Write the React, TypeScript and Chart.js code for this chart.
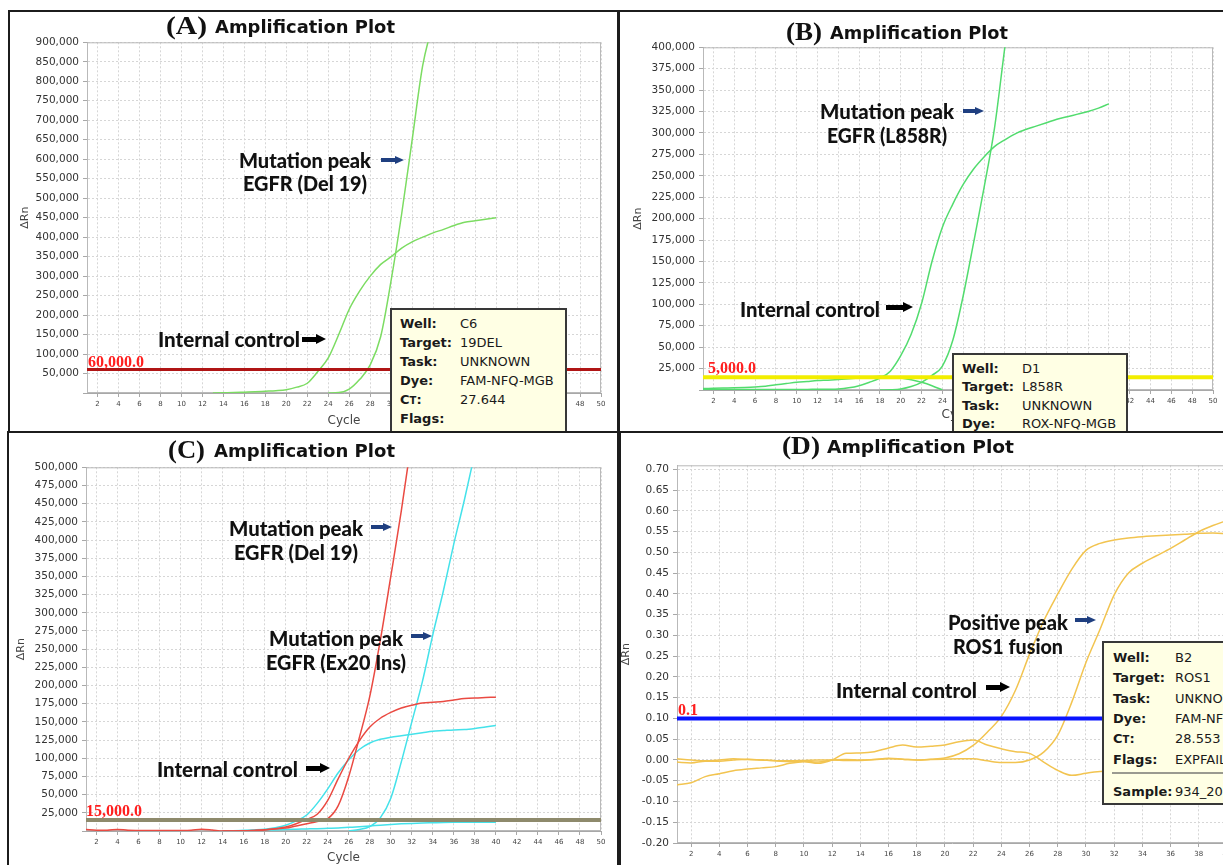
import React, { useEffect, useRef } from "react";
import { Chart, registerables } from "chart.js";
Chart.register(...registerables);

// ---------- shared axis data ----------
const cycles = [1, 2, 3, 4, 5, 6, 7, 8, 9, 10, 11, 12, 13, 14, 15, 16, 17, 18, 19, 20, 21, 22, 23, 24, 25, 26, 27, 28, 29, 30, 31, 32, 33, 34, 35, 36, 37, 38, 39, 40];
const xTicks50 = [2, 4, 6, 8, 10, 12, 14, 16, 18, 20, 22, 24, 26, 28, 30, 32, 34, 36, 38, 40, 42, 44, 46, 48, 50];
const xTicks40 = [2, 4, 6, 8, 10, 12, 14, 16, 18, 20, 22, 24, 26, 28, 30, 32, 34, 36, 38, 40];

// ---------- Panel A ----------
const aYTicks = [0, 50000, 100000, 150000, 200000, 250000, 300000, 350000, 400000, 450000, 500000, 550000, 600000, 650000, 700000, 750000, 800000, 850000, 900000];
const aInternal = [null, null, null, null, null, null, null, null, null, null, null, null, 0, 500, 1000, 2000, 3000, 4500, 6000, 8500, 15000, 25000, 55000, 90000, 150000, 215000, 262000, 300000, 330000, 350000, 372000, 388000, 400000, 411000, 420000, 430000, 438000, 442000, 446000, 450000];
const aMutation = [null, null, null, null, null, null, null, null, null, null, null, null, null, null, null, null, null, null, null, null, null, null, null, 0, 1000, 10000, 35000, 72000, 145000, 290000, 460000, 650000, 840000, 950000, 1050000, null, null, null, null, null];
const aThreshold = 60000;

// ---------- Panel B ----------
const bYTicks = [0, 25000, 50000, 75000, 100000, 125000, 150000, 175000, 200000, 225000, 250000, 275000, 300000, 325000, 350000, 375000, 400000];
const bInternal = [800, 700, 600, 600, 500, 500, 500, 500, 500, 600, 700, 800, 900, 1200, 2500, 5000, 9000, 14000, 22000, 40000, 65000, 101000, 150000, 190000, 217000, 240000, 258000, 272000, 284000, 292000, 299000, 304000, 308000, 312000, 316000, 319000, 322000, 325000, 329000, 334000];
const bMutation = [null, null, null, null, null, null, null, null, null, null, null, null, null, null, null, null, null, 0, 300, 1200, 4000, 9000, 17000, 28000, 58000, 110000, 172000, 236000, 305000, 400000, 490000, null, null, null, null, null, null, null, null, null];
const bDrift = [1700, 2000, 2300, 2600, 3000, 3600, 4500, 6000, 7500, 9000, 10000, 11000, 11500, 12200, 13000, 14000, 15000, 16000, 15500, 14000, 12000, 9000, 5000, 0, null, null, null, null, null, null, null, null, null, null, null, null, null, null, null, null];
const bThreshold = 15000;

// ---------- Panel C ----------
const cYTicks = [0, 25000, 50000, 75000, 100000, 125000, 150000, 175000, 200000, 225000, 250000, 275000, 300000, 325000, 350000, 375000, 400000, 425000, 450000, 475000, 500000];
const cRedInternal = [2000, 1200, 1000, 2200, 1000, 800, 700, 700, 700, 800, 1200, 2500, 1500, 0, 0, 200, 800, 1500, 3000, 5500, 10000, 16000, 23000, 42000, 72000, 100000, 124000, 143000, 155000, 163000, 169000, 173000, 176000, 177000, 178000, 180000, 182000, 183000, 183500, 184000];
const cRedMutation = [null, null, null, null, null, null, null, null, null, null, null, null, null, 0, 0, 200, 800, 1800, 2800, 4000, 7000, 10000, 13000, 17000, 35000, 75000, 128000, 185000, 262000, 350000, 440000, 540000, null, null, null, null, null, null, null, null];
const cCyanInternal = [null, null, null, null, null, null, null, null, null, null, null, null, null, 0, 300, 800, 1500, 2500, 4500, 8000, 14000, 22000, 38000, 58000, 80000, 98000, 112000, 121000, 126000, 129000, 131000, 133000, 135000, 137000, 138000, 139000, 139500, 141000, 143000, 145000];
const cCyanMutation = [null, null, null, null, null, null, null, null, null, null, null, null, null, null, null, null, null, null, null, null, null, null, null, null, null, 0, 2000, 6000, 18000, 45000, 95000, 150000, 205000, 270000, 330000, 395000, 455000, 520000, null, null];
const cCyanLow = [null, null, null, null, null, null, null, null, null, null, null, null, null, 0, 300, 600, 900, 1200, 1500, 2000, 2400, 2800, 3200, 3700, 4200, 5000, 5800, 6800, 8000, 9000, 9800, 10400, 10900, 11300, 11700, 11900, 12000, 12100, 12200, 12200];
const cThreshold = 15000;

// ---------- Panel D ----------
const dYTicks = [-0.2, -0.15, -0.1, -0.05, 0, 0.05, 0.1, 0.15, 0.2, 0.25, 0.3, 0.35, 0.4, 0.45, 0.5, 0.55, 0.6, 0.65, 0.7];
const dInternal = [-0.005, -0.007, -0.003, -0.003, 0.0, 0.002, 0.0, -0.002, -0.004, -0.003, -0.005, 0.0, 0.001, 0.0, 0.001, 0.003, 0.002, 0.0, 0.002, 0.005, 0.015, 0.035, 0.067, 0.105, 0.168, 0.255, 0.335, 0.4, 0.46, 0.505, 0.522, 0.53, 0.535, 0.538, 0.54, 0.542, 0.544, 0.546, 0.547, 0.545];
const dRos1 = [0.003, 0.0, -0.002, 0.0, 0.003, 0.001, 0.0, -0.002, -0.002, -0.001, 0.0, 0.0, -0.001, -0.001, 0.001, 0.004, 0.002, 0.0, 0.001, 0.002, 0.003, 0.003, -0.002, -0.006, -0.006, 0.0, 0.019, 0.06, 0.14, 0.235, 0.315, 0.398, 0.45, 0.474, 0.492, 0.51, 0.53, 0.55, 0.565, 0.577];
const dBaseline = [-0.06, -0.055, -0.04, -0.033, -0.026, -0.022, -0.019, -0.016, -0.008, -0.004, -0.008, 0.0, 0.016, 0.017, 0.02, 0.029, 0.036, 0.031, 0.033, 0.036, 0.044, 0.048, 0.036, 0.027, 0.02, 0.016, -0.005, -0.025, -0.037, -0.032, -0.028, -0.026, -0.025, -0.024, -0.023, -0.022, -0.022, -0.021, -0.02, -0.02];
const dThreshold = 0.1;

// ---------- chart helpers ----------
const toXY = (arr) => cycles.map((c, i) => ({ x: c, y: arr[i] }));

function curve(arr, color) {
  return {
    data: toXY(arr),
    borderColor: color,
    borderWidth: 1.5,
    pointRadius: 0,
    cubicInterpolationMode: "monotone",
    fill: false,
    order: 2,
  };
}

function buildConfig(p) {
  const thrData = [
    { x: p.xMin, y: p.threshold.value },
    { x: p.xMax, y: p.threshold.value },
  ];
  const frame = {
    id: "frame",
    beforeDatasetsDraw(chart) {
      const { ctx, chartArea: a } = chart;
      ctx.save();
      ctx.strokeStyle = "#b9b9b9";
      ctx.lineWidth = 1;
      ctx.strokeRect(a.left + 0.5, a.top + 0.5, a.right - a.left - 1, a.bottom - a.top - 1);
      ctx.restore();
    },
  };
  const thrLabel = {
    id: "thrLabel",
    afterDatasetsDraw(chart) {
      const { ctx, chartArea: a } = chart;
      const y = chart.scales.y.getPixelForValue(p.threshold.value);
      ctx.save();
      ctx.font = "bold 16px 'Liberation Serif'";
      ctx.fillStyle = "#ff1e1e";
      ctx.textBaseline = "middle";
      ctx.textAlign = "left";
      ctx.fillText(p.threshold.label, a.left + p.threshold.dx, y - p.threshold.dy);
      ctx.restore();
    },
  };
  return {
    type: "line",
    data: {
      datasets: [
        {
          data: thrData,
          borderColor: p.threshold.color,
          borderWidth: p.threshold.width,
          pointRadius: 0,
          order: 0,
        },
        ...p.datasets,
      ],
    },
    plugins: [frame, thrLabel],
    options: {
      responsive: false,
      maintainAspectRatio: false,
      animation: false,
      devicePixelRatio: 1,
      events: [],
      layout: { padding: { top: p.padTop, right: p.padRight, left: 0, bottom: 0 } },
      plugins: { legend: { display: false }, tooltip: { enabled: false }, title: { display: false } },
      scales: {
        x: {
          type: "linear",
          min: p.xMin,
          max: p.xMax,
          afterBuildTicks: (s) => {
            s.ticks = p.xTicks.map((v) => ({ value: v }));
          },
          afterFit: (s) => {
            s.height = p.xh;
          },
          grid: { color: "#d6d6d6", lineWidth: 1, drawTicks: true, tickLength: 4, tickColor: "#a8a8a8", tickBorderDash: [] },
          border: { display: true, color: "#a8a8a8", dash: [2, 2] },
          ticks: {
            font: { family: "DejaVu Sans", size: 7 },
            color: "#444",
            padding: 3,
            maxRotation: 0,
            autoSkip: false,
            callback: (v) => String(v),
          },
          title: {
            display: p.showCycle,
            text: "Cycle",
            font: { family: "DejaVu Sans", size: 12 },
            color: "#444",
            padding: { top: 0, bottom: p.xTitlePad },
          },
        },
        y: {
          type: "linear",
          min: p.yMin,
          max: p.yMax,
          afterBuildTicks: (s) => {
            s.ticks = p.yTicks.map((v) => ({ value: v }));
          },
          afterFit: (s) => {
            s.width = p.yw;
          },
          grid: { color: "#d6d6d6", lineWidth: 1, drawTicks: true, tickLength: 4, tickColor: "#a8a8a8", tickBorderDash: [] },
          border: { display: true, color: "#a8a8a8", dash: [2, 2] },
          ticks: {
            font: { family: "DejaVu Sans", size: 10.5 },
            color: "#333",
            padding: 4,
            autoSkip: false,
            callback: p.yFmt,
          },
          title: {
            display: true,
            text: "ΔRn",
            font: { family: "DejaVu Sans", size: 11 },
            color: "#444",
            padding: { top: p.yTitlePad, bottom: 0 },
          },
        },
      },
    },
  };
}

function PlotCanvas({ p }) {
  const ref = useRef(null);
  const W = p.yw + (p.plot.r - p.plot.l) + p.padRight;
  const H = p.padTop + (p.plot.b - p.plot.t) + p.xh;
  useEffect(() => {
    const chart = new Chart(ref.current, buildConfig(p));
    return () => chart.destroy();
  }, []);
  return (
    <canvas
      ref={ref}
      width={W}
      height={H}
      style={{ position: "absolute", left: p.plot.l - p.yw, top: p.plot.t - p.padTop, width: W, height: H }}
    />
  );
}

const fmtBig = (v) => (v === 0 ? "" : Number(v).toLocaleString("en-US"));
const fmtSmall = (v) => Number(v).toFixed(2);

const panelA = {
  plot: { l: 87, t: 42, r: 601, b: 393 },
  yw: 79, xh: 36, padTop: 10, padRight: 12, yTitlePad: 11, xTitlePad: 1, showCycle: true,
  xMin: 1, xMax: 50, xTicks: xTicks50, yMin: 0, yMax: 900000, yTicks: aYTicks, yFmt: fmtBig,
  threshold: { value: aThreshold, color: "#b01515", width: 3, label: "60,000.0", dx: 1, dy: 7 },
  datasets: [curve(aInternal, "#7cdc62"), curve(aMutation, "#7cdc62")],
};
const panelB = {
  plot: { l: 703, t: 47, r: 1213, b: 390 },
  yw: 79, xh: 36, padTop: 10, padRight: 12, yTitlePad: 8, xTitlePad: 4, showCycle: true,
  xMin: 1, xMax: 50, xTicks: xTicks50, yMin: 0, yMax: 400000, yTicks: bYTicks, yFmt: fmtBig,
  threshold: { value: bThreshold, color: "#f2ee00", width: 4, label: "5,000.0", dx: 5, dy: 8 },
  datasets: [curve(bInternal, "#52dc6e"), curve(bMutation, "#52dc6e"), curve(bDrift, "#52dc6e")],
};
const panelC = {
  plot: { l: 86, t: 467, r: 601, b: 831 },
  yw: 79, xh: 36, padTop: 10, padRight: 12, yTitlePad: 8, xTitlePad: 2, showCycle: true,
  xMin: 1, xMax: 50, xTicks: xTicks50, yMin: 0, yMax: 500000, yTicks: cYTicks, yFmt: fmtBig,
  threshold: { value: cThreshold, color: "#8e8a6c", width: 4, label: "15,000.0", dx: 0, dy: 8 },
  datasets: [
    curve(cRedInternal, "#ea4a42"),
    curve(cRedMutation, "#ea4a42"),
    curve(cCyanInternal, "#44e2ea"),
    curve(cCyanMutation, "#44e2ea"),
    curve(cCyanLow, "#44e2ea"),
  ],
};
const panelD = {
  plot: { l: 677, t: 465, r: 1227, b: 843 },
  yw: 60, xh: 36, padTop: 10, padRight: 12, yTitlePad: 3, xTitlePad: 2, showCycle: false,
  xMin: 1, xMax: 40, xTicks: xTicks40, yMin: -0.2, yMax: 0.71, yTicks: dYTicks, yFmt: fmtSmall,
  threshold: { value: dThreshold, color: "#0a14ff", width: 4, label: "0.1", dx: 1, dy: 8 },
  datasets: [curve(dInternal, "#f2c450"), curve(dRos1, "#f2c450"), curve(dBaseline, "#f2c450")],
};

// ---------- overlay helpers ----------
let measureCtx = null;
function measure(text, font) {
  if (!measureCtx) measureCtx = document.createElement("canvas").getContext("2d");
  measureCtx.font = font;
  return measureCtx.measureText(text).width || 1;
}

function FitText({ x, y, w, text, font, color = "#111" }) {
  const s = w ? Math.max(0.7, Math.min(1.3, w / measure(text, font))) : 1;
  return (
    <div
      style={{
        position: "absolute",
        left: x,
        top: y,
        font,
        color,
        lineHeight: 1,
        whiteSpace: "nowrap",
        transform: `translateY(-50%) scaleX(${s})`,
        transformOrigin: "left center",
      }}
    >
      {text}
    </div>
  );
}

function Arrow({ x1, x2, y, color, shaft = 4, head = 10, hl = 9 }) {
  return (
    <div style={{ position: "absolute", left: x1, top: y - head / 2, width: x2 - x1, height: head }}>
      <div style={{ position: "absolute", left: 0, top: (head - shaft) / 2, width: x2 - x1 - hl + 1, height: shaft, background: color }} />
      <div
        style={{
          position: "absolute",
          right: 0,
          top: 0,
          width: 0,
          height: 0,
          borderTop: `${head / 2}px solid transparent`,
          borderBottom: `${head / 2}px solid transparent`,
          borderLeft: `${hl}px solid ${color}`,
        }}
      />
    </div>
  );
}

const ANN = "900 20px Lato";
const TITLE_FONT = "bold 17px 'DejaVu Sans'";
const LETTER_FONT = "bold 26px 'Liberation Serif'";
const BLUE = "#1f3f80";

function Title({ letter, lx, lw, tx, tw, y }) {
  return (
    <>
      <FitText x={lx} y={y} w={lw} text={letter} font={LETTER_FONT} color="#111" />
      <FitText x={tx} y={y + 1} w={tw} text="Amplification Plot" font={TITLE_FONT} color="#111" />
    </>
  );
}

const TIP_LBL = "bold 13px 'DejaVu Sans'";
const TIP_VAL = "13px 'DejaVu Sans'";

function InfoBox({ box, labelX, valueX, y0, step, rows, sep }) {
  return (
    <>
      <div
        style={{
          position: "absolute",
          left: box.l,
          top: box.t,
          width: box.w,
          height: box.h,
          background: "#ffffe4",
          border: "2px solid #383838",
          boxSizing: "border-box",
        }}
      />
      {rows.map((r, i) => {
        const y = r.y !== undefined ? r.y : y0 + i * step;
        return (
          <React.Fragment key={i}>
            <div style={{ position: "absolute", left: labelX, top: y, transform: "translateY(-50%)", font: TIP_LBL, color: "#1a1a1a", lineHeight: 1, whiteSpace: "nowrap" }}>
              {r.ct ? (
                <span>
                  C<span style={{ fontSize: "10px" }}>T</span>:
                </span>
              ) : (
                r.k
              )}
            </div>
            <div style={{ position: "absolute", left: valueX, top: y, transform: "translateY(-50%)", font: TIP_VAL, color: "#1a1a1a", lineHeight: 1, whiteSpace: "nowrap" }}>
              {r.v}
            </div>
          </React.Fragment>
        );
      })}
      {sep ? <div style={{ position: "absolute", left: sep.x1, top: sep.y, width: sep.x2 - sep.x1, height: 2, background: "#9a9a90" }} /> : null}
    </>
  );
}

function Frame({ l, t, w, h }) {
  return <div style={{ position: "absolute", left: l, top: t, width: w, height: h, border: "2px solid #1c1c1c", boxSizing: "border-box" }} />;
}

export default function App() {
  return (
    <div style={{ position: "fixed", left: 0, top: 0, width: 1223, height: 865, overflow: "hidden", background: "#ffffff" }}>
      <PlotCanvas p={panelA} />
      <PlotCanvas p={panelB} />
      <PlotCanvas p={panelC} />
      <PlotCanvas p={panelD} />

      {/* titles */}
      <Title letter="(A)" lx={166} lw={41} tx={215} tw={180} y={26} />
      <Title letter="(B)" lx={786} lw={36} tx={830} tw={178} y={32} />
      <Title letter="(C)" lx={168} lw={37} tx={214} tw={181} y={450} />
      <Title letter="(D)" lx={782} lw={38} tx={827} tw={187} y={446} />

      {/* Panel A annotations */}
      <FitText x={239} y={160} w={132} text="Mutation peak" font={ANN} />
      <Arrow x1={381} x2={404} y={160} color={BLUE} shaft={4} head={9} hl={9} />
      <FitText x={243} y={183} w={124} text="EGFR (Del 19)" font={ANN} />
      <FitText x={158} y={339} w={142} text="Internal control" font={ANN} />
      <Arrow x1={302} x2={326} y={339} color="#000" shaft={5} head={11} hl={10} />

      {/* Panel B annotations */}
      <FitText x={820} y={111} w={134} text="Mutation peak" font={ANN} />
      <Arrow x1={963} x2={984} y={111} color={BLUE} shaft={4} head={9} hl={9} />
      <FitText x={827} y={135} w={120} text="EGFR (L858R)" font={ANN} />
      <FitText x={740} y={309} w={140} text="Internal control" font={ANN} />
      <Arrow x1={886} x2={913} y={307} color="#000" shaft={5} head={11} hl={10} />

      {/* Panel C annotations */}
      <FitText x={229} y={528} w={134} text="Mutation peak" font={ANN} />
      <Arrow x1={371} x2={392} y={527} color={BLUE} shaft={4} head={9} hl={9} />
      <FitText x={234} y={552} w={124} text="EGFR (Del 19)" font={ANN} />
      <FitText x={269} y={638} w={134} text="Mutation peak" font={ANN} />
      <Arrow x1={411} x2={432} y={636} color={BLUE} shaft={4} head={9} hl={9} />
      <FitText x={266} y={662} w={140} text="EGFR (Ex20 Ins)" font={ANN} />
      <FitText x={157} y={769} w={141} text="Internal control" font={ANN} />
      <Arrow x1={306} x2={330} y={768} color="#000" shaft={5} head={11} hl={10} />

      {/* Panel D annotations */}
      <FitText x={948} y={622} w={120} text="Positive peak" font={ANN} />
      <Arrow x1={1075} x2={1096} y={620} color={BLUE} shaft={4} head={9} hl={9} />
      <FitText x={953} y={646} w={110} text="ROS1 fusion" font={ANN} />
      <FitText x={836} y={690} w={141} text="Internal control" font={ANN} />
      <Arrow x1={986} x2={1010} y={687} color="#000" shaft={5} head={11} hl={10} />

      {/* info boxes */}
      <InfoBox
        box={{ l: 390, t: 308, w: 177, h: 125 }}
        labelX={400}
        valueX={460}
        y0={323}
        step={19}
        rows={[
          { k: "Well:", v: "C6" },
          { k: "Target:", v: "19DEL" },
          { k: "Task:", v: "UNKNOWN" },
          { k: "Dye:", v: "FAM-NFQ-MGB" },
          { ct: true, v: "27.644" },
          { k: "Flags:", v: "" },
        ]}
      />
      <InfoBox
        box={{ l: 952, t: 353, w: 176, h: 80 }}
        labelX={962}
        valueX={1022}
        y0={368}
        step={18.4}
        rows={[
          { k: "Well:", v: "D1" },
          { k: "Target:", v: "L858R" },
          { k: "Task:", v: "UNKNOWN" },
          { k: "Dye:", v: "ROX-NFQ-MGB" },
        ]}
      />
      <InfoBox
        box={{ l: 1102, t: 641, w: 200, h: 164 }}
        labelX={1113}
        valueX={1175}
        y0={657}
        step={20.3}
        rows={[
          { k: "Well:", v: "B2" },
          { k: "Target:", v: "ROS1" },
          { k: "Task:", v: "UNKNOWN" },
          { k: "Dye:", v: "FAM-NFQ-MGB" },
          { ct: true, v: "28.553" },
          { k: "Flags:", v: "EXPFAIL" },
          { k: "Sample:", v: "934_20", y: 791 },
        ]}
        sep={{ x1: 1112, x2: 1240, y: 772 }}
      />

      {/* panel frames */}
      <Frame l={8} t={10} w={611} h={423} />
      <Frame l={618} t={10} w={620} h={423} />
      <Frame l={7} t={431} w={612} h={440} />
      <Frame l={619} t={431} w={620} h={440} />
    </div>
  );
}
